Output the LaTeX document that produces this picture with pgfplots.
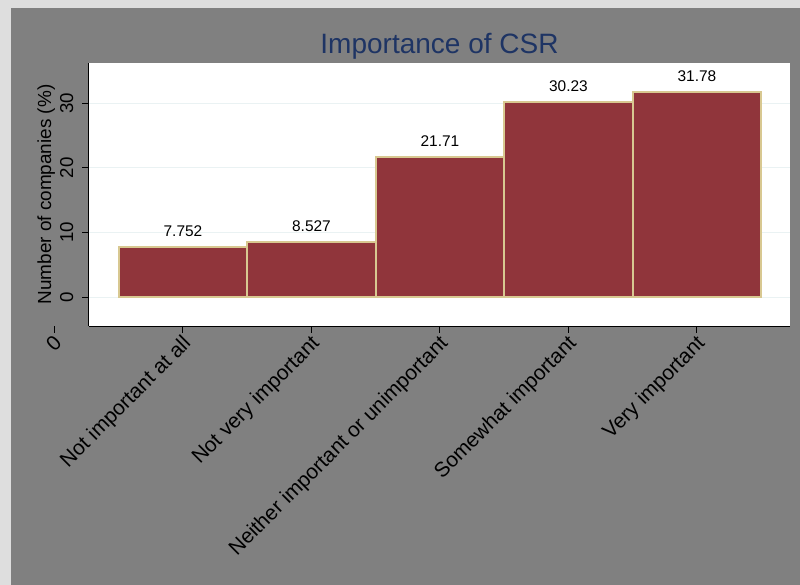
\documentclass[border=0pt]{standalone}
\usepackage{pgfplots}
\pgfplotsset{compat=1.18}
\usepackage{pgfplotstable}
\usepackage{fontspec}
\setmainfont{Liberation Sans}
\definecolor{bggray}{RGB}{128,128,128}
\definecolor{framecol}{RGB}{222,222,222}
\definecolor{barred}{RGB}{144,53,59}
\definecolor{barline}{RGB}{216,200,145}
\definecolor{titlecol}{RGB}{30,52,100}
\definecolor{gridcol}{RGB}{234,242,243}
\pgfplotstableread{
x y lab
1 7.752 7.752
2 8.527 8.527
3 21.71 21.71
4 30.23 30.23
5 31.78 31.78
}\datatable
\begin{document}
\begin{tikzpicture}
\fill[framecol] (-66.75pt,-194.25pt) rectangle (533.25pt,244.5pt);
\fill[bggray] (-58.5pt,-194.25pt) rectangle (533.25pt,238.5pt);
\begin{axis}[
  scale only axis, width=525.75pt, height=197.25pt,
  xmin=0.2685, xmax=5.724, ymin=-4.49, ymax=36.24,
  axis background/.style={fill=white},
  axis x line*=bottom, axis y line*=left,
  axis line style={-, black, line width=0.75pt},
  tick align=outside, major tick length=5pt,
  tick style={black, line width=0.75pt},
  xtick={1,2,3,4,5},
  xticklabels={Not important at all, Not very important, Neither important or unimportant, Somewhat important, Very important},
  xticklabel style={rotate=45, anchor=north east, yshift=2pt, inner sep=1.5pt, font=\fontsize{15.6}{17}\selectfont},
  ytick={0,10,20,30},
  yticklabel style={rotate=90, anchor=south, inner sep=6.5pt, font=\fontsize{14}{16}\selectfont},
  /pgf/number format/assume math mode=true,
  ymajorgrids, grid style={gridcol, line width=0.75pt},
  ylabel={Number of companies (\%)},
  ylabel style={font=\fontsize{14.2}{16}\selectfont, yshift=-6.25pt},
  title={Importance of CSR},
  title style={at={(0.5,1)}, anchor=base, yshift=1.5pt, font=\fontsize{21}{24}\selectfont, text=titlecol},
  clip=false,
]
\addplot[ybar, bar width=1, bar shift=0pt, fill=barred, draw=barline, line width=1.3pt,
  nodes near coords, point meta=explicit symbolic,
  nodes near coords style={font=\fontsize{11.6}{13}\selectfont, anchor=base, yshift=7.7pt, text=black}]
  table[x=x,y=y,meta=lab]{\datatable};
\draw[black, line width=0.75pt] (axis cs:0,-4.49) -- ++(0pt,-5pt)
  node[rotate=45, anchor=north east, yshift=2pt, inner sep=1.5pt, font=\fontsize{15.6}{17}\selectfont] {0};
\end{axis}
\end{tikzpicture}
\end{document}
